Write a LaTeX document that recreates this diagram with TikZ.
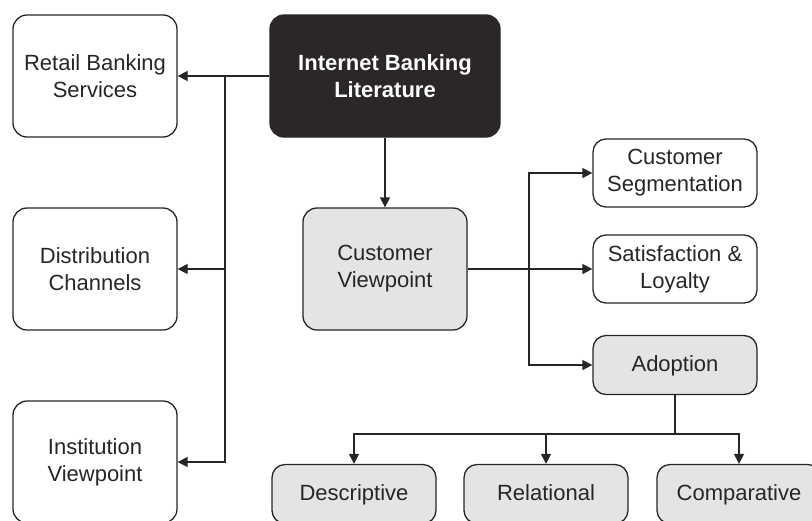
\documentclass[tikz,border=0pt]{standalone}
\usepackage{fontspec}
\setmainfont{Liberation Sans}
\usepackage{tikz}
\usetikzlibrary{arrows.meta, positioning}
\definecolor{ink}{RGB}{38,38,38}
\definecolor{boxfill}{RGB}{228,228,228}
\definecolor{topfill}{RGB}{43,39,40}
\tikzstyle{topic}=[draw=ink, line width=0.65pt, rectangle, rounded corners=7pt, minimum width=82pt, minimum height=61pt, align=center, text=ink, font=\fontsize{11}{13.5}\selectfont]
\tikzstyle{topic-main}=[topic, fill=topfill, draw=topfill, minimum width=115pt, text=white, font=\fontsize{11}{13.5}\selectfont\bfseries]
\tikzstyle{topic-grey}=[topic, fill=boxfill]
\tikzstyle{subtopic}=[topic, minimum height=34pt, rounded corners=6.5pt]
\tikzstyle{subtopic-grey}=[subtopic, fill=boxfill, minimum height=29.5pt, text height=1.6ex, text depth=0.45ex]
\tikzstyle{link}=[draw=ink, line width=0.65pt, -{Triangle[length=5pt,width=5pt]}]

\begin{document}
\begin{tikzpicture}[x=0.5pt, y=-0.5pt]
\clip (0,0) rectangle (812,520);

\node[topic-main] (ibl) at (385,76) {Internet Banking\\Literature};
\node[topic] (retail) at (95,76) {Retail Banking\\Services};
\node[topic] (dist) at (95,269) {Distribution\\Channels};
\node[topic] (inst) at (95,462) {Institution\\Viewpoint};
\node[topic-grey] (cv) at (385,269) {Customer\\Viewpoint};

\node[subtopic] (seg) at (675,173) {Customer\\Segmentation};
\node[subtopic] (sat) at (675,269) {Satisfaction \&\\Loyalty};
\node[subtopic-grey] (adopt) at (675,365) {Adoption};

\node[subtopic-grey] (desc) at (354,494) {Descriptive};
\node[subtopic-grey] (rel) at (546,494) {Relational};
\node[subtopic-grey] (comp) at (739,494) {Comparative};

\coordinate (lbus) at (225,76);
\coordinate (rbus) at (529,269);
\coordinate (abus) at (675,434);

\draw [link] (ibl) -- (retail);
\draw [link] (lbus) |- (dist);
\draw [link] (lbus) |- (inst);
\draw [link] (ibl) -- (cv);

\draw [link] (cv) -- (sat);
\draw [link] (rbus) |- (seg);
\draw [link] (rbus) |- (adopt);

\draw [draw=ink, line width=0.65pt] (adopt) -- (abus);
\draw [link] (abus) -| (desc);
\draw [link] (abus) -| (rel);
\draw [link] (abus) -| (comp);
\end{tikzpicture}
\end{document}
